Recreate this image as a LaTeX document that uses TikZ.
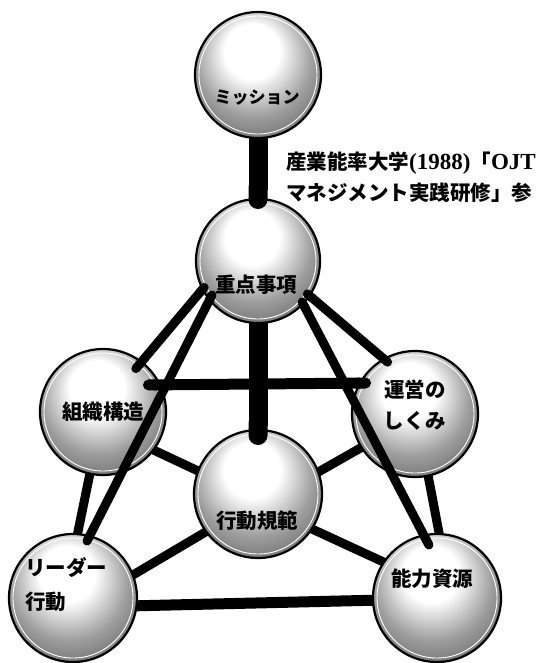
\documentclass[tikz,border=0pt]{standalone}
\usepackage{fontspec}
\usetikzlibrary{arrows.meta,calc}
\newfontfamily\jpfont{Noto Sans CJK JP}
\newfontfamily\capserif{Liberation Serif}

% halftone-like ball: bright cap above the middle, grey towards the rim,
% with a slightly lighter band just inside the outline
\pgfdeclareradialshading{halftone}{\pgfpoint{-3bp}{12bp}}{%
  color(0bp)=(white); color(11bp)=(white); color(23bp)=(black!38);
  color(35bp)=(black!62); color(44bp)=(black!78); color(50bp)=(black!50)}

\begin{document}
\begin{tikzpicture}[x=1pt,y=-1pt,
  ball/.style={circle, inner sep=0pt, outer sep=0pt, minimum size=#1,
    draw=black, line width=2.2pt, shade, shading=halftone},
  ball/.default=126pt,
  rimline/.style={white, line width=0.9pt},
  link/.style={line width=9pt, line cap=butt},
  band/.style={line width=11pt, line cap=butt},
  bar/.style={line width=19pt, line cap=butt},
  dots/.style={{Round Cap}-{Round Cap}},
  enddot/.style={-{Round Cap}},
  ballname/.style={inner sep=1pt, font=\jpfont\bfseries\fontsize{20.5}{34}\selectfont},
  caption/.style={anchor=west, inner sep=0pt, font=\jpfont\bfseries\fontsize{20.5}{25}\selectfont}]

\useasboundingbox (0,0) rectangle (552,663);
\fill[white] (0,0) rectangle (552,663);

% spheres
\node[ball] (M) at (258,75) {};
\node[ball=124pt] (J) at (258,261) {};
\node[ball] (S) at (103,412) {};
\node[ball] (U) at (415,414) {};
\node[ball=128pt] (K) at (258,494) {};
\node[ball=128pt] (L) at (73,598) {};
\node[ball=128pt] (N) at (437,598) {};
\foreach \b/\r in {M/59, J/58, S/59, U/59, K/60, L/60, N/60}
  \draw[rimline] (\b.center) circle (\r pt);

% thick spine
\draw[bar, enddot] (M.south) -- ([yshift=-10pt]J.north);
\draw[bar, enddot] (J.south) -- ([yshift=-15pt]K.north);

% struts from the top sphere
\draw[link, dots] ([shift={(-51,23)}]J.center) -- ([shift={(30,-40)}]S.center);
\draw[link, dots] ([shift={(-44,30)}]J.center) -- ([shift={(12,-53)}]L.center);
\draw[link, dots] ([shift={(46,30)}]J.center) -- ([shift={(-24,-49)}]U.center);
\draw[link, dots] ([shift={(42,37)}]J.center) -- ([shift={(-6,-49)}]N.center);

% lower frame
\draw[band, dots] ([shift={(40,-27)}]S.center) -- ([shift={(-44,-31)}]U.center);
\draw[band] (L.-7) -- (N.-178);
\draw[link] (S.-102) -- (L.86);
\draw[link] (U.-78) -- (N.88);
\draw[link] (S.-37) -- (K.159);
\draw[link] (L.21) -- (K.-144);
\draw[link] (K.20) -- (U.-148);
\draw[link] (K.-33) -- (N.146);

% names on the spheres
\node[ballname, font=\jpfont\bfseries\fontsize{17}{20}\selectfont] (tM) at (257,98) {ミッション};
\node[ballname] (tJ) at (256,285) {重点事項};
\node[ballname] (tS) at (103,412) {組織構造};
\node[ballname, align=center, font=\jpfont\bfseries\fontsize{20.5}{31}\selectfont] (tU) at (415,405) {運営の\\しくみ};
\node[ballname] (tK) at (257,521) {行動規範};
\node[ballname, align=left, anchor=west] (tL) at (24,585) {リーダー\\行動};
\node[ballname] (tN) at (432,579) {能力資源};

% source note
\node[caption] (cap1) at (286,163) {産業能率大学{\capserif\fontsize{23}{25}\selectfont (1988)}「{\capserif\fontsize{23}{25}\selectfont OJT}};
\node[caption] (cap2) at (286,193) {マネジメント実践研修」参};
\end{tikzpicture}
\end{document}
